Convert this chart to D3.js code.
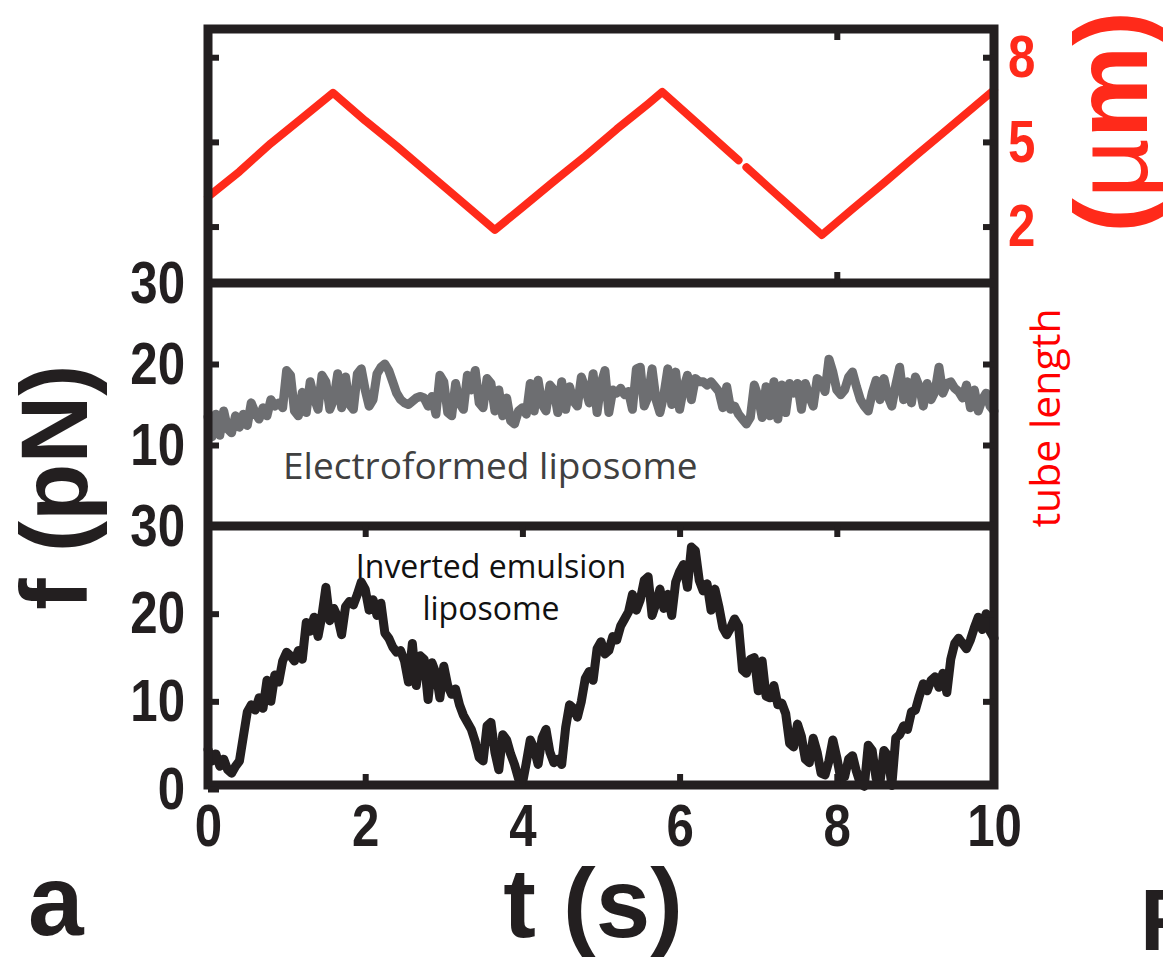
<!DOCTYPE html>
<html>
<head>
<meta charset="utf-8">
<script src="https://cdn.jsdelivr.net/npm/d3@7"></script>
<style>
  body { margin: 0; background: #fff; }
  svg { display: block; }
</style>
</head>
<body>
<div class="chart"></div>
<script>
// tube length (top panel), null = gap in the trace
const lengthTimes = [0, 0.4, 0.8, 1.2, 1.59, 2.0, 2.4, 2.8, 3.2, 3.65, 4.0, 4.4, 4.8, 5.2, 5.6, 5.78, 6.2, 6.6, 6.75, 6.8, 6.85, 7.2, 7.5, 7.81, 8.2, 8.6, 9.0, 9.4, 10.0]
const lengthValues = [3.05, 3.95, 4.95, 5.85, 6.74, 5.75, 4.85, 3.9, 2.95, 1.88, 2.68, 3.6, 4.5, 5.45, 6.35, 6.77, 5.72, 4.72, 4.35, null, 4.1, 3.22, 2.47, 1.7, 2.62, 3.55, 4.5, 5.43, 6.84]

// force traces share one time base (0.05 s)
const forceTimes = [0, 0.05, 0.1, 0.15, 0.2, 0.25, 0.3, 0.35, 0.4, 0.45, 0.5, 0.55, 0.6, 0.65, 0.7, 0.75, 0.8, 0.85, 0.9, 0.95,
  1.0, 1.05, 1.1, 1.15, 1.2, 1.25, 1.3, 1.35, 1.4, 1.45, 1.5, 1.55, 1.6, 1.65, 1.7, 1.75, 1.8, 1.85, 1.9, 1.95,
  2.0, 2.05, 2.1, 2.15, 2.2, 2.25, 2.3, 2.35, 2.4, 2.45, 2.5, 2.55, 2.6, 2.65, 2.7, 2.75, 2.8, 2.85, 2.9, 2.95,
  3.0, 3.05, 3.1, 3.15, 3.2, 3.25, 3.3, 3.35, 3.4, 3.45, 3.5, 3.55, 3.6, 3.65, 3.7, 3.75, 3.8, 3.85, 3.9, 3.95,
  4.0, 4.05, 4.1, 4.15, 4.2, 4.25, 4.3, 4.35, 4.4, 4.45, 4.5, 4.55, 4.6, 4.65, 4.7, 4.75, 4.8, 4.85, 4.9, 4.95,
  5.0, 5.05, 5.1, 5.15, 5.2, 5.25, 5.3, 5.35, 5.4, 5.45, 5.5, 5.55, 5.6, 5.65, 5.7, 5.75, 5.8, 5.85, 5.9, 5.95,
  6.0, 6.05, 6.1, 6.15, 6.2, 6.25, 6.3, 6.35, 6.4, 6.45, 6.5, 6.55, 6.6, 6.65, 6.7, 6.75, 6.8, 6.85, 6.9, 6.95,
  7.0, 7.05, 7.1, 7.15, 7.2, 7.25, 7.3, 7.35, 7.4, 7.45, 7.5, 7.55, 7.6, 7.65, 7.7, 7.75, 7.8, 7.85, 7.9, 7.95,
  8.0, 8.05, 8.1, 8.15, 8.2, 8.25, 8.3, 8.35, 8.4, 8.45, 8.5, 8.55, 8.6, 8.65, 8.7, 8.75, 8.8, 8.85, 8.9, 8.95,
  9.0, 9.05, 9.1, 9.15, 9.2, 9.25, 9.3, 9.35, 9.4, 9.45, 9.5, 9.55, 9.6, 9.65, 9.7, 9.75, 9.8, 9.85, 9.9, 9.95, 10.0]

const electroformed = [13.5, 11.0, 13.8, 11.2, 14.2, 12.0, 11.5, 13.6, 12.2, 13.8, 12.4, 15.2, 14.0, 13.2, 14.6, 13.6, 15.6, 14.8, 15.2, 14.6,
  19.2, 18.6, 14.2, 13.6, 16.5, 14.0, 17.8, 15.8, 14.4, 18.6, 17.8, 14.4, 15.6, 18.8, 14.6, 18.4, 15.0, 14.4, 18.8, 19.4,
  16.8, 14.8, 15.6, 18.8, 19.6, 20.0, 19.2, 17.8, 16.4, 15.6, 15.2, 15.0, 15.4, 15.8, 16.0, 15.8, 14.8, 16.0, 13.8, 18.6,
  17.8, 14.0, 13.6, 17.6, 15.2, 14.4, 18.6, 16.8, 19.2, 15.2, 14.6, 18.2, 17.6, 14.2, 16.8, 13.6, 15.8, 13.0, 12.6, 14.2,
  14.6, 13.8, 17.6, 14.2, 18.0, 15.0, 14.2, 17.4, 16.8, 14.0, 17.8, 14.4, 17.2, 15.4, 14.8, 18.4, 17.0, 15.2, 18.8, 14.0,
  17.6, 19.2, 14.0, 16.8, 16.4, 17.0, 16.2, 16.6, 14.4, 19.4, 19.6, 14.8, 16.0, 19.4, 15.6, 14.0, 16.2, 19.4, 15.0, 19.0,
  14.4, 17.0, 18.6, 15.6, 18.2, 17.8, 17.8, 17.4, 17.8, 17.2, 16.6, 14.6, 17.2, 14.4, 14.8, 13.8, 13.2, 12.6, 13.4, 17.4,
  16.0, 13.4, 17.2, 13.6, 17.8, 13.2, 17.4, 14.0, 17.6, 16.4, 17.6, 14.4, 17.6, 16.0, 14.8, 18.2, 17.8, 16.6, 20.6, 19.0,
  16.8, 16.2, 16.8, 18.4, 19.0, 17.2, 15.6, 14.8, 14.2, 16.4, 18.0, 15.6, 18.2, 16.0, 14.8, 17.4, 19.6, 15.6, 17.8, 15.2,
  18.4, 17.2, 14.8, 17.6, 15.6, 16.6, 19.6, 16.4, 17.6, 17.8, 17.0, 16.6, 15.8, 17.4, 14.6, 16.8, 14.2, 15.6, 16.4, 14.8, 14.2]

const invertedEmulsion = [4.5, 3.2, 4.0, 2.6, 3.4, 2.2, 1.8, 2.6, 3.2, 6.0, 8.8, 9.6, 9.0, 10.4, 9.2, 12.4, 10.0, 13.0, 12.2, 14.6,
  15.6, 15.2, 14.6, 15.8, 14.8, 19.0, 18.0, 19.6, 17.4, 19.8, 23.0, 19.2, 20.6, 19.6, 17.6, 20.8, 21.4, 21.0, 22.2, 23.6,
  22.8, 20.4, 21.6, 19.8, 21.2, 17.8, 17.2, 16.2, 15.6, 15.8, 14.6, 12.2, 16.6, 11.8, 15.2, 14.8, 10.2, 14.4, 13.2, 10.4,
  14.0, 11.8, 10.8, 11.4, 9.6, 8.4, 7.6, 6.8, 5.4, 3.6, 3.2, 7.2, 7.6, 4.2, 2.2, 6.2, 5.6, 4.0, 2.8, 1.2,
  0.6, 3.0, 5.6, 4.6, 2.8, 5.8, 6.8, 4.2, 3.0, 3.4, 2.8, 7.0, 9.6, 9.2, 8.2, 10.0, 12.6, 13.4, 12.4, 16.0,
  16.8, 15.4, 15.8, 17.4, 17.0, 18.6, 19.4, 20.2, 22.2, 20.4, 21.6, 23.8, 24.2, 19.8, 21.2, 22.8, 20.6, 22.2, 19.8, 23.6,
  24.8, 25.6, 23.0, 27.6, 27.2, 23.8, 22.6, 23.4, 20.4, 22.8, 20.8, 18.4, 17.6, 18.4, 19.4, 18.6, 13.6, 13.2, 14.8, 15.0,
  11.2, 14.6, 10.6, 10.4, 11.8, 9.6, 9.8, 8.6, 5.2, 4.8, 7.4, 6.0, 3.4, 3.0, 5.8, 4.2, 1.8, 1.6, 3.2, 5.6,
  3.6, 1.2, 1.4, 3.4, 3.8, 2.0, 0.6, 0.3, 5.0, 4.4, 1.2, 0.8, 4.4, 3.8, 0.4, 5.8, 6.2, 7.2, 6.8, 8.8,
  9.0, 10.6, 12.0, 11.2, 12.4, 12.8, 11.6, 13.2, 11.0, 14.8, 16.6, 17.2, 16.6, 16.0, 17.0, 18.4, 19.6, 18.2, 20.0, 18.0, 17.2]

const timeTicks = [0, 2, 4, 6, 8, 10]
const lengthTicks = [2, 5, 8]
const forceTicks = [10, 20, 30]
const bottomForceTicks = [0, 10, 20, 30]

const width = 1163
const height = 961
const ink = '#231f20'
const red = '#ff2a1a'
const boldFont = "'Liberation Sans', Arial, sans-serif"
const textFont = "'Open Sans', 'Noto Sans', sans-serif"

const svg = d3.select('.chart').append('svg')
  .attr('width', width)
  .attr('height', height)

let xScale = d3.scaleLinear().domain([0, 10]).range([208, 994])
let yLength = d3.scaleLinear().domain([0, 9]).range([283, 29])
let yMid = d3.scaleLinear().domain([0, 30]).range([526, 283])
let yBot = d3.scaleLinear().domain([0, 30]).range([789, 526])

const lengthData = lengthTimes.map((t, i) => ({t: t, v: lengthValues[i]}))
const greyData = forceTimes.map((t, i) => ({t: t, v: electroformed[i]}))
const blackData = forceTimes.map((t, i) => ({t: t, v: invertedEmulsion[i]}))

const lineFor = (yS) => d3.line()
  .defined(d => d.v != null)
  .x(d => xScale(d.t))
  .y(d => yS(d.v))

const addTrace = (data, yS, colour, w) => {
  svg.append('path')
    .datum(data)
    .attr('d', lineFor(yS))
    .attr('fill', 'none')
    .attr('stroke', colour)
    .attr('stroke-width', w)
    .attr('stroke-linejoin', 'round')
    .attr('stroke-linecap', 'round')
}

addTrace(lengthData, yLength, red, 8)
addTrace(greyData, yMid, '#6d6e71', 9)
addTrace(blackData, yBot, ink, 9)

// frames
svg.append('rect')
  .attr('x', 208).attr('y', 29)
  .attr('width', 994 - 208).attr('height', 785 - 29)
  .attr('fill', 'none').attr('stroke', ink).attr('stroke-width', 9)

;[283, 526].forEach(y => {
  svg.append('line')
    .attr('x1', 208).attr('x2', 994)
    .attr('y1', y).attr('y2', y)
    .attr('stroke', ink).attr('stroke-width', 9)
})

// condensed bold numerals: squeeze Liberation Sans Bold horizontally
const styleAxis = (g, colour) => {
  g.select('.domain').remove()
  g.selectAll('.tick line').attr('stroke', ink).attr('stroke-width', 6)
  g.selectAll('.tick text')
    .attr('fill', colour)
    .style('font-family', boldFont)
    .style('font-weight', 'bold')
    .style('font-size', '60px')
    .each(function() {
      const tx = +this.getAttribute('x') || 0
      d3.select(this).attr('x', 0).attr('transform', 'translate(' + tx + ',0) scale(0.82,1)')
    })
}

const noLabel = () => ''

// top panel ticks
svg.append('g').attr('transform', 'translate(208,0)')
  .call(d3.axisLeft(yLength).tickValues(lengthTicks).tickSizeInner(-11).tickSizeOuter(0).tickFormat(noLabel))
  .call(g => styleAxis(g, ink))

svg.append('g').attr('transform', 'translate(994,0)')
  .call(d3.axisRight(yLength).tickValues(lengthTicks).tickSizeInner(-11).tickSizeOuter(0).tickPadding(14))
  .call(g => styleAxis(g, red))

svg.append('g').attr('transform', 'translate(0,29)')
  .call(d3.axisTop(xScale).tickValues([8]).tickSizeInner(-11).tickSizeOuter(0).tickFormat(noLabel))
  .call(g => styleAxis(g, ink))

svg.append('g').attr('transform', 'translate(0,283)')
  .call(d3.axisBottom(xScale).tickValues([8]).tickSizeInner(11).tickSizeOuter(0).tickFormat(noLabel))
  .call(g => g.selectAll('.tick line').attr('y2', -11))
  .call(g => styleAxis(g, ink))

// middle panel
svg.append('g').attr('transform', 'translate(208,0)')
  .call(d3.axisLeft(yMid).tickValues(forceTicks).tickSizeInner(-11).tickSizeOuter(0).tickPadding(23))
  .call(g => styleAxis(g, ink))

svg.append('g').attr('transform', 'translate(994,0)')
  .call(d3.axisRight(yMid).tickValues([10, 20]).tickSizeInner(-11).tickSizeOuter(0).tickFormat(noLabel))
  .call(g => styleAxis(g, ink))

// bottom panel
svg.append('g').attr('transform', 'translate(208,0)')
  .call(d3.axisLeft(yBot).tickValues(bottomForceTicks).tickSizeInner(-11).tickSizeOuter(0).tickPadding(23))
  .call(g => styleAxis(g, ink))

svg.append('g').attr('transform', 'translate(994,0)')
  .call(d3.axisRight(yBot).tickValues([10, 20]).tickSizeInner(-11).tickSizeOuter(0).tickFormat(noLabel))
  .call(g => styleAxis(g, ink))

svg.append('g').attr('transform', 'translate(0,526)')
  .call(d3.axisTop(xScale).tickValues([2, 4, 6, 8]).tickSizeInner(-11).tickSizeOuter(0).tickFormat(noLabel))
  .call(g => styleAxis(g, ink))

svg.append('g').attr('transform', 'translate(0,785)')
  .call(d3.axisBottom(xScale).tickValues(timeTicks).tickSizeInner(-11).tickSizeOuter(0).tickPadding(18))
  .call(g => styleAxis(g, ink))
  .call(g => g.selectAll('.tick').filter(d => d === 0 || d === 10).select('line').remove())

// axis titles and annotations
const addText = (txt, x, y, opts) => {
  const t = svg.append('text')
    .attr('x', x).attr('y', y)
    .attr('fill', opts.fill || ink)
    .attr('text-anchor', opts.anchor || 'start')
    .style('font-family', opts.font || boldFont)
    .style('font-weight', opts.weight || 'normal')
    .style('font-size', opts.size + 'px')
    .text(txt)
  if (opts.rotate) t.attr('transform', 'rotate(-90,' + x + ',' + y + ')')
  return t
}

addText('f (pN)', 87, 487, {anchor: 'middle', weight: 'bold', size: 94, rotate: true})
addText('t (s)', 593, 937, {anchor: 'middle', weight: 'bold', size: 98})
addText('a', 28, 935, {weight: 'bold', size: 100})
addText('F', 1140, 950, {weight: 'bold', size: 88})

const unit = addText('(', 1147, 122, {anchor: 'middle', weight: 'bold', size: 104, fill: red, rotate: true})
unit.append('tspan').style('font-weight', 'normal').text('\u00b5')
unit.append('tspan').text('m)')

addText('tube length', 1060, 418, {anchor: 'middle', size: 41, fill: '#ff0000', font: textFont, rotate: true})

addText('Electroformed liposome', 283, 479, {size: 37, fill: '#404040', font: textFont})
addText('Inverted emulsion', 491, 578, {anchor: 'middle', size: 32, font: textFont, fill: '#111'})
addText('liposome', 491, 620, {anchor: 'middle', size: 32, font: textFont, fill: '#111'})
</script>
</body>
</html>
